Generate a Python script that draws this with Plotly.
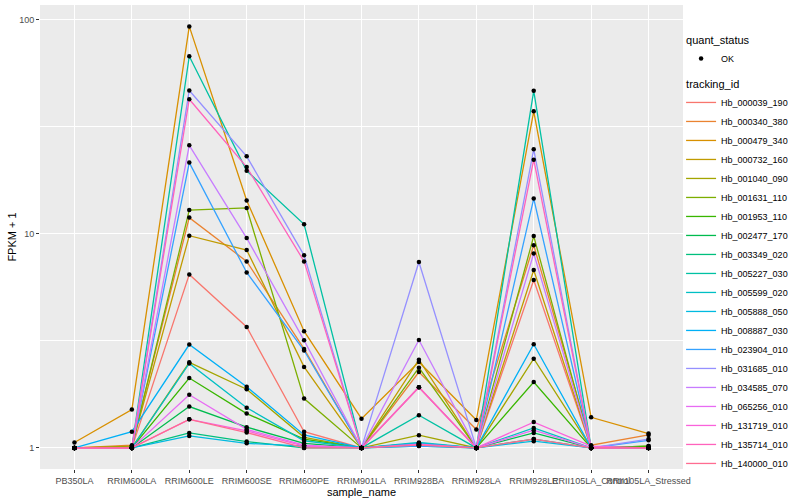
import plotly.graph_objects as go

samples = ["PB350LA", "RRIM600LA", "RRIM600LE", "RRIM600SE", "RRIM600PE", "RRIM901LA",
           "RRIM928BA", "RRIM928LA", "RRIM928LE", "RRII105LA_Control", "RRII105LA_Stressed"]

tracking_ids = ["Hb_000039_190", "Hb_000340_380", "Hb_000479_340", "Hb_000732_160", "Hb_001040_090",
                "Hb_001631_110", "Hb_001953_110", "Hb_002477_170", "Hb_003349_020", "Hb_005227_030",
                "Hb_005599_020", "Hb_005888_050", "Hb_008887_030", "Hb_023904_010", "Hb_031685_010",
                "Hb_034585_070", "Hb_065256_010", "Hb_131719_010", "Hb_135714_010", "Hb_140000_010"]

colors = ["#F8766D", "#EA8331", "#D89000", "#C09B00", "#A3A500", "#7CAE00", "#39B600", "#00BB4E",
          "#00BF7D", "#00C1A3", "#00BFC4", "#00BAE0", "#00B0F6", "#35A2FF", "#9590FF", "#C77CFF",
          "#E76BF3", "#FA62DB", "#FF62BC", "#FF6C91"]

# FPKM + 1 per tracking_id, in sample order
Hb_000039_190 = [1.00, 1.00, 6.46, 3.67, 1.19, 1.00, 1.92, 1.00, 6.08, 1.00, 1.00]
Hb_000340_380 = [1.00, 1.03, 11.9, 7.43, 2.90, 1.00, 2.26, 1.22, 8.85, 1.03, 1.15]
Hb_000479_340 = [1.06, 1.51, 93.0, 14.3, 3.51, 1.37, 2.52, 1.35, 37.3, 1.39, 1.167]
Hb_000732_160 = [1.00, 1.02, 9.80, 8.40, 2.39, 1.00, 2.58, 1.00, 6.77, 1.00, 1.00]
Hb_001040_090 = [1.00, 1.00, 2.51, 1.88, 1.12, 1.00, 1.146, 1.00, 2.61, 1.00, 1.00]
Hb_001631_110 = [1.00, 1.01, 12.9, 13.2, 1.70, 1.00, 2.37, 1.00, 9.76, 1.00, 1.02]
Hb_001953_110 = [1.00, 1.00, 2.12, 1.447, 1.10, 1.00, 1.05, 1.00, 2.03, 1.00, 1.02]
Hb_002477_170 = [1.00, 1.00, 1.56, 1.25, 1.05, 1.00, 1.03, 1.00, 1.175, 1.00, 1.00]
Hb_003349_020 = [1.00, 1.00, 1.175, 1.07, 1.00, 1.00, 1.02, 1.00, 1.10, 1.00, 1.00]
Hb_005227_030 = [1.00, 1.00, 67.5, 19.7, 11.07, 1.00, 1.42, 1.00, 46.5, 1.00, 1.00]
Hb_005599_020 = [1.00, 1.00, 2.48, 1.54, 1.08, 1.00, 1.06, 1.00, 1.24, 1.00, 1.00]
Hb_005888_050 = [1.00, 1.00, 1.137, 1.05, 1.02, 1.00, 1.05, 1.00, 1.075, 1.00, 1.00]
Hb_008887_030 = [1.00, 1.19, 3.04, 1.93, 1.15, 1.00, 1.04, 1.00, 3.05, 1.00, 1.00]
Hb_023904_010 = [1.00, 1.00, 21.5, 6.60, 2.85, 1.00, 1.02, 1.00, 14.6, 1.00, 1.085]
Hb_031685_010 = [1.00, 1.00, 46.7, 23.0, 7.93, 1.00, 7.38, 1.00, 24.8, 1.00, 1.10]
Hb_034585_070 = [1.00, 1.00, 25.9, 9.55, 3.18, 1.00, 3.19, 1.00, 8.10, 1.00, 1.00]
Hb_065256_010 = [1.00, 1.00, 1.77, 1.22, 1.03, 1.00, 1.92, 1.00, 1.21, 1.00, 1.00]
Hb_131719_010 = [1.00, 1.00, 1.36, 1.20, 1.02, 1.00, 1.04, 1.00, 1.32, 1.02, 1.00]
Hb_135714_010 = [1.00, 1.00, 42.5, 20.5, 7.43, 1.00, 1.92, 1.00, 22.2, 1.00, 1.00]
Hb_140000_010 = [1.00, 1.00, 1.36, 1.18, 1.00, 1.00, 1.03, 1.00, 1.10, 1.00, 1.00]

series = [Hb_000039_190, Hb_000340_380, Hb_000479_340, Hb_000732_160, Hb_001040_090,
          Hb_001631_110, Hb_001953_110, Hb_002477_170, Hb_003349_020, Hb_005227_030,
          Hb_005599_020, Hb_005888_050, Hb_008887_030, Hb_023904_010, Hb_031685_010,
          Hb_034585_070, Hb_065256_010, Hb_131719_010, Hb_135714_010, Hb_140000_010]

y_ticks = [1, 10, 100]
y_tick_labels = ["1", "10", "100"]

FONT = "Liberation Sans, Arial, sans-serif"

fig = go.Figure()
for i, (tid, vals) in enumerate(zip(tracking_ids, series)):
    fig.add_trace(go.Scatter(
        x=samples, y=vals, mode="lines", name=tid,
        line=dict(color=colors[i], width=1.3),
        legendgroup="tid", legendgrouptitle=dict(text="tracking_id", font=dict(size=11, color="black")),
        legendrank=100 + i, hoverinfo="x+y+name"))

all_x, all_y = [], []
for vals in series:
    all_x += samples
    all_y += vals
fig.add_trace(go.Scatter(
    x=all_x, y=all_y, mode="markers", name="OK",
    marker=dict(color="black", size=4.5, symbol="circle"),
    legendgroup="qs", legendgrouptitle=dict(text="quant_status", font=dict(size=11, color="black")),
    legendrank=1))

fig.update_layout(
    width=800, height=500,
    margin=dict(l=40, r=117, t=5, b=31, autoexpand=False),
    paper_bgcolor="white", plot_bgcolor="#EBEBEB",
    font=dict(family=FONT, size=9, color="black"),
    showlegend=True,
    legend=dict(x=0.997, y=0.957, xanchor="left", yanchor="top",
                traceorder="grouped", tracegroupgap=6,
                font=dict(size=9, color="black"), bgcolor="rgba(0,0,0,0)",
                itemwidth=30),
    xaxis=dict(type="category", categoryorder="array", categoryarray=samples, automargin=False,
               range=[-0.6, len(samples) - 0.4], showgrid=True, gridcolor="white", gridwidth=1.1,
               zeroline=False, showline=False, ticks="outside", ticklen=3, tickcolor="#333333",
               tickwidth=1, tickangle=0, tickfont=dict(size=9, color="#4D4D4D"),
               title=dict(text="sample_name", font=dict(size=11, color="black"), standoff=0)),
    yaxis=dict(type="log", range=[-0.0985, 2.0685], tickvals=y_ticks, ticktext=y_tick_labels,
               automargin=False,
               showgrid=True, gridcolor="white", gridwidth=1.1, zeroline=False, showline=False,
               ticks="outside", ticklen=3, tickcolor="#333333", tickwidth=1,
               tickfont=dict(size=9, color="#4D4D4D"),
               minor=dict(tickvals=[10 ** 0.5, 10 ** 1.5], showgrid=True, gridcolor="white",
                          gridwidth=0.5, ticks=""),
               title=dict(text="FPKM + 1", font=dict(size=11, color="black"), standoff=0)),
)

fig.write_html("out.html", config={"displayModeBar": False},
               post_script="document.body.style.margin='0';")
